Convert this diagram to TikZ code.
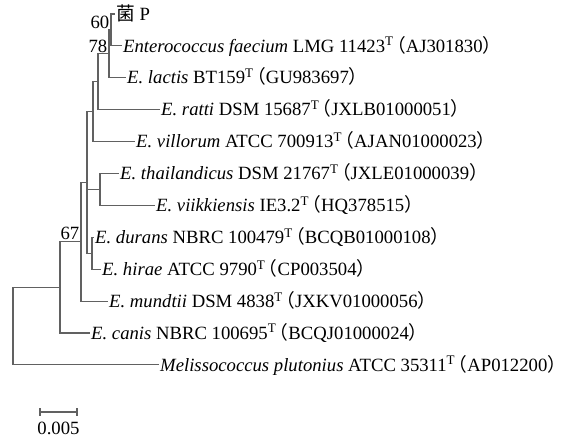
\documentclass[tikz,border=0pt]{standalone}
\usepackage{fontspec}
\setmainfont{Liberation Serif}
\newfontfamily\cjk{Noto Sans CJK SC}
\usepackage{tikz}
\usetikzlibrary{calc}

\newcommand{\typT}{\textsuperscript{T}}
\newcommand{\accno}[1]{\kern-.35em{\cjk （}#1{\cjk ）}\kern-.4em}

\begin{document}
\begin{tikzpicture}[x=1pt,y=-1pt,
  branch/.style={draw=black!62,line width=1.15pt},
  leaf/.style={anchor=west,inner sep=1pt,text height=12.4pt,text depth=0pt},
  boot/.style={anchor=south east,inner sep=1.5pt},
  font=\fontsize{18.7}{22}\selectfont]
  \useasboundingbox (0,0) rectangle (570,441); % 図の範囲
  % 内部節点
  \coordinate (n60) at (111,30.0); % 菌Pとfaeciumの節点
  \coordinate (n78) at (109,53.9); % lactisを含む節点
  \coordinate (c1) at (98,81.8); % rattiを含む節点
  \coordinate (c2) at (93,111.7); % villorumを含む節点
  \coordinate (nT) at (100,189.5); % thailandicusとviikkiensisの節点
  \coordinate (nDH) at (92,253.3); % duransとhiraeの節点
  \coordinate (nB) at (87,182.5); % 三分岐の節点
  \coordinate (nA) at (81,241.8); % mundtiiを含む節点
  \coordinate (nR2) at (60,287.4); % canisを含む節点
  \coordinate (root) at (13,326.2); % 根
  % 末端の名前
  \node[leaf] (l1) at (115,14.0) {{\cjk 菌} P};
  \node[leaf] (l2) at (122,45.9) {\textit{Enterococcus faecium} LMG 11423\typT\accno{AJ301830}};
  \node[leaf] (l3) at (126,77.8) {\textit{E. lactis} BT159\typT\accno{GU983697}};
  \node[leaf] (l4) at (160,109.7) {\textit{E. ratti} DSM 15687\typT\accno{JXLB01000051}};
  \node[leaf] (l5) at (135,141.6) {\textit{E. villorum} ATCC 700913\typT\accno{AJAN01000023}};
  \node[leaf] (l6) at (119,173.5) {\textit{E. thailandicus} DSM 21767\typT\accno{JXLE01000039}};
  \node[leaf] (l7) at (155,205.4) {\textit{E. viikkiensis} IE3.2\typT\accno{HQ378515}};
  \node[leaf] (l8) at (94,237.3) {\textit{E. durans} NBRC 100479\typT\accno{BCQB01000108}};
  \node[leaf] (l9) at (101,269.2) {\textit{E. hirae} ATCC 9790\typT\accno{CP003504}};
  \node[leaf] (l10) at (108,301.1) {\textit{E. mundtii} DSM 4838\typT\accno{JXKV01000056}};
  \node[leaf] (l11) at (90,333.0) {\textit{E. canis} NBRC 100695\typT\accno{BCQJ01000024}};
  \node[leaf] (l12) at (159,364.9) {\textit{Melissococcus plutonius} ATCC 35311\typT\accno{AP012200}};
  % 枝
  \draw[branch] (n60) |- (l1.west) (n60) |- (l2.west); % 菌Pとfaecium
  \draw[branch] (n78) |- (n60) (n78) |- (l3.west); % lactis
  \draw[branch] (c1) |- (n78) (c1) |- (l4.west); % ratti
  \draw[branch] (c2) |- (c1) (c2) |- (l5.west); % villorum
  \draw[branch] (nT) |- (l6.west) (nT) |- (l7.west); % thailandicusとviikkiensis
  \draw[branch] (nDH) |- (l8.west) (nDH) |- (l9.west); % duransとhirae
  \draw[branch] (nB) |- (c2) (nB) |- (nT) (nB) |- (nDH); % 三分岐
  \draw[branch] (nA) |- (nB) (nA) |- (l10.west); % mundtii
  \draw[branch] (nR2) |- (nA) (nR2) |- (l11.west); % canis
  \draw[branch] (root) |- (nR2) (root) |- (l12.west); % 外群
  % ブートストラップ値
  \node[boot] (b60) at (n60) {60};
  \node[boot] (b78) at (n78) {78};
  \node[boot] (b67) at (nA) {67};
  % スケールバー
  \coordinate (s0) at (40,412); % 左端
  \coordinate (s1) at (77,412); % 右端
  \draw[branch] (s0) -- (s1); % 横線
  \draw[branch] ($(s0)+(0,-4)$) -- ($(s0)+(0,4)$); % 左の目盛
  \draw[branch] ($(s1)+(0,-4)$) -- ($(s1)+(0,4)$); % 右の目盛
  \node[anchor=north,inner sep=1pt] (sc) at ($(s0)!0.5!(s1)+(0,9)$) {0.005};
\end{tikzpicture}
\end{document}
